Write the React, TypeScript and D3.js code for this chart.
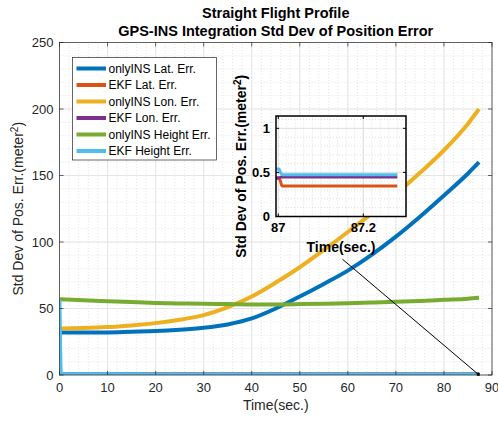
import React from 'react';
import * as d3 from 'd3';

// Time axis and standard deviations (meters) for the stand-alone INS solution
const timeMain = [0, 5, 10, 15, 20, 25, 30, 35, 40, 45, 50, 55, 60, 65, 70, 75, 80, 85, 87.3];
const latOnlyIns = [32, 32, 32, 32.5, 33, 34, 35.5, 38, 42.5, 50, 59, 68.5, 78.5, 90.5, 104, 119, 135, 151.5, 160];
const lonOnlyIns = [35, 35.3, 36, 37.3, 39, 41.5, 45, 51, 59, 69.5, 81, 94, 107.5, 121.5, 136, 152, 169, 189, 200];
const heightOnlyIns = [57, 56.2, 55.5, 54.8, 54.2, 53.8, 53.5, 53.3, 53.1, 53.1, 53.3, 53.6, 54, 54.5, 55, 55.7, 56.5, 57.3, 58];

// EKF solution over the whole flight
const timeEkf = [0, 0.3, 20, 40, 60, 80, 87.3];
const latEkf = [0.9, 0.35, 0.35, 0.35, 0.35, 0.35, 0.35];
const lonEkf = [0.9, 0.45, 0.45, 0.45, 0.45, 0.45, 0.45];
const heightEkf = [56.4, 0.48, 0.47, 0.47, 0.47, 0.47, 0.47];

// EKF solution, zoomed to the end of the flight
const timeInset = [86.995, 87.002, 87.005, 87.009, 87.28];
const latEkfInset = [0.43, 0.43, 0.4, 0.345, 0.345];
const lonEkfInset = [0.44, 0.44, 0.445, 0.447, 0.447];
const heightEkfInset = [0.54, 0.54, 0.5, 0.475, 0.475];

const legendLabels = [
  'onlyINS Lat. Err.',
  'EKF Lat. Err.',
  'onlyINS Lon. Err.',
  'EKF Lon. Err.',
  'onlyINS Height Err.',
  'EKF Height Err.',
];
const colors = ['#0072BD', '#D95319', '#EDB120', '#7E2F8E', '#77AC30', '#4DBEEE'];

const xTicksMain = [0, 10, 20, 30, 40, 50, 60, 70, 80, 90];
const yTicksMain = [0, 50, 100, 150, 200, 250];
const xTicksInset = [87, 87.2];
const yTicksInset = [0, 0.5, 1];

const FONT = '"Liberation Sans", Arial, Helvetica, sans-serif';
const TXT = '#262626';

export default function App() {
  const W = 498;
  const H = 421;

  // main axes
  const x = d3.scaleLinear().domain([0, 90]).range([59.5, 492]);
  const y = d3.scaleLinear().domain([0, 250]).range([375, 42.5]);

  // inset axes
  const xi = d3.scaleLinear().domain([86.9946, 87.3005]).range([276, 406]);
  const yi = d3.scaleLinear().domain([0, 1.14]).range([216.5, 116]);

  const lineMain = (t: number[], v: number[]) =>
    d3.line<number>().x((_, i) => x(t[i])).y((d) => y(d)).curve(d3.curveMonotoneX)(v) || '';
  const lineInset = (t: number[], v: number[]) =>
    d3.line<number>().x((_, i) => xi(t[i])).y((d) => yi(d)).curve(d3.curveMonotoneX)(v) || '';

  const mainSeries = [
    { t: timeMain, v: latOnlyIns, c: colors[0] },
    { t: timeEkf, v: latEkf, c: colors[1] },
    { t: timeMain, v: lonOnlyIns, c: colors[2] },
    { t: timeEkf, v: lonEkf, c: colors[3] },
    { t: timeMain, v: heightOnlyIns, c: colors[4] },
    { t: timeEkf, v: heightEkf, c: colors[5] },
  ];
  const insetSeries = [
    { t: timeInset, v: latEkfInset, c: colors[1] },
    { t: timeInset, v: lonEkfInset, c: colors[3] },
    { t: timeInset, v: heightEkfInset, c: colors[5] },
  ];

  const [x0, x1] = x.range();
  const [y0, y1] = y.range();
  const [ix0, ix1] = xi.range();
  const [iy0, iy1] = yi.range();

  const xMinorMain = d3.range(0, 90.001, 2);
  const yMinorMain = d3.range(0, 250.001, 10);
  const xMinorInset = d3.range(87, 87.3001, 0.02);
  const yMinorInset = d3.range(0, 1.1401, 0.1);

  // zoom-region marker and connector, in main-axis data units
  const zoomBox = { t0: 87, t1: 87.3, v0: 0, v1: 1.14 };
  const connector = { t: 58.9, v: 87 };

  const legendY = (i: number) => 68.5 + i * 16.5;

  return (
    <svg width={W} height={H} style={{ position: 'absolute', left: 0, top: 0, background: '#fff' }} fontFamily={FONT}>
      <defs>
        <clipPath id="clipMain">
          <rect x={x0} y={y1} width={x1 - x0} height={y0 - y1} />
        </clipPath>
        <clipPath id="clipInset">
          <rect x={ix0} y={iy1} width={ix1 - ix0} height={iy0 - iy1} />
        </clipPath>
      </defs>
      <rect width={W} height={H} fill="#fff" />

      {/* main grid */}
      <g>
        {xMinorMain.map((d) => (
          <line key={'xm' + d} x1={x(d)} x2={x(d)} y1={y0} y2={y1} stroke="#d4d4d4" strokeWidth={0.6} strokeDasharray="1 2" />
        ))}
        {yMinorMain.map((d) => (
          <line key={'ym' + d} x1={x0} x2={x1} y1={y(d)} y2={y(d)} stroke="#d4d4d4" strokeWidth={0.6} strokeDasharray="1 2" />
        ))}
        {xTicksMain.map((d) => (
          <line key={'xg' + d} x1={x(d)} x2={x(d)} y1={y0} y2={y1} stroke="#dfdfdf" strokeWidth={0.8} />
        ))}
        {yTicksMain.map((d) => (
          <line key={'yg' + d} x1={x0} x2={x1} y1={y(d)} y2={y(d)} stroke="#dfdfdf" strokeWidth={0.8} />
        ))}
      </g>

      {/* main series */}
      <g clipPath="url(#clipMain)">
        {mainSeries.map((s, i) => (
          <path key={i} d={lineMain(s.t, s.v)} fill="none" stroke={s.c} strokeWidth={4} strokeLinejoin="round" />
        ))}
      </g>

      {/* main axes box and ticks */}
      <rect x={x0} y={y1} width={x1 - x0} height={y0 - y1} fill="none" stroke={TXT} strokeWidth={0.7} />
      {xTicksMain.map((d) => (
        <g key={'xt' + d}>
          <line x1={x(d)} x2={x(d)} y1={y0} y2={y0 - 4} stroke={TXT} strokeWidth={0.7} />
          <line x1={x(d)} x2={x(d)} y1={y1} y2={y1 + 4} stroke={TXT} strokeWidth={0.7} />
          <text x={x(d)} y={y0 + 16.5} textAnchor="middle" fontSize={13} fill={TXT}>{d}</text>
        </g>
      ))}
      {yTicksMain.map((d) => (
        <g key={'yt' + d}>
          <line x1={x0} x2={x0 + 4} y1={y(d)} y2={y(d)} stroke={TXT} strokeWidth={0.7} />
          <line x1={x1} x2={x1 - 4} y1={y(d)} y2={y(d)} stroke={TXT} strokeWidth={0.7} />
          <text x={x0 - 6} y={y(d) + 4.5} textAnchor="end" fontSize={13} fill={TXT}>{d}</text>
        </g>
      ))}
      <text x={(x0 + x1) / 2} y={410} textAnchor="middle" fontSize={14} fill={TXT}>Time(sec.)</text>
      <text transform={`translate(23,${(y0 + y1) / 2}) rotate(-90)`} textAnchor="middle" fontSize={14} fill={TXT}>
        Std Dev of Pos. Err.(meter<tspan dy={-5} fontSize={10}>2</tspan><tspan dy={5}>)</tspan>
      </text>

      {/* title */}
      <text x={(x0 + x1) / 2} y={18} textAnchor="middle" fontSize={14.5} fontWeight="bold" fill="#000">Straight Flight Profile</text>
      <text x={(x0 + x1) / 2} y={35.5} textAnchor="middle" fontSize={14.5} fontWeight="bold" fill="#000">GPS-INS Integration Std Dev of Position Error</text>

      {/* legend */}
      <g>
        <rect x={72.5} y={57.5} width={144} height={102.5} fill="#fff" stroke={TXT} strokeWidth={0.7} />
        {legendLabels.map((l, i) => (
          <g key={l}>
            <line x1={76.5} x2={106} y1={legendY(i)} y2={legendY(i)} stroke={colors[i]} strokeWidth={4} />
            <text x={108.5} y={legendY(i) + 4.3} fontSize={12} fill="#000">{l}</text>
          </g>
        ))}
      </g>

      {/* zoom marker and connector */}
      <rect x={x(zoomBox.t0)} y={y(zoomBox.v1)} width={x(zoomBox.t1) - x(zoomBox.t0)} height={y(zoomBox.v0) - y(zoomBox.v1)} fill="none" stroke="#000" strokeWidth={1.5} />
      <line x1={x(connector.t)} y1={y(connector.v)} x2={x(zoomBox.t1)} y2={y(zoomBox.v0)} stroke="#000" strokeWidth={1} />

      {/* inset */}
      <rect x={ix0} y={iy1} width={ix1 - ix0} height={iy0 - iy1} fill="#fff" />
      <g>
        {xMinorInset.map((d, k) => (
          <line key={'ixm' + k} x1={xi(d)} x2={xi(d)} y1={iy0} y2={iy1} stroke="#c8c8c8" strokeWidth={0.6} strokeDasharray="1 2" />
        ))}
        {yMinorInset.map((d, k) => (
          <line key={'iym' + k} x1={ix0} x2={ix1} y1={yi(d)} y2={yi(d)} stroke="#c8c8c8" strokeWidth={0.6} strokeDasharray="1 2" />
        ))}
        {xTicksInset.map((d) => (
          <line key={'ixg' + d} x1={xi(d)} x2={xi(d)} y1={iy0} y2={iy1} stroke="#d8d8d8" strokeWidth={0.8} />
        ))}
        {yTicksInset.map((d) => (
          <line key={'iyg' + d} x1={ix0} x2={ix1} y1={yi(d)} y2={yi(d)} stroke="#d8d8d8" strokeWidth={0.8} />
        ))}
      </g>
      <g clipPath="url(#clipInset)">
        {insetSeries.map((s, i) => (
          <path key={i} d={lineInset(s.t, s.v)} fill="none" stroke={s.c} strokeWidth={3} strokeLinejoin="round" />
        ))}
      </g>
      <rect x={ix0} y={iy1} width={ix1 - ix0} height={iy0 - iy1} fill="none" stroke="#000" strokeWidth={1.5} />
      {xTicksInset.map((d) => (
        <g key={'ixt' + d}>
          <line x1={xi(d)} x2={xi(d)} y1={iy0} y2={iy0 - 3} stroke="#000" strokeWidth={1} />
          <line x1={xi(d)} x2={xi(d)} y1={iy1} y2={iy1 + 3} stroke="#000" strokeWidth={1} />
          <text x={xi(d)} y={iy0 + 15.5} textAnchor="middle" fontSize={13} fontWeight="bold" fill="#000">{d}</text>
        </g>
      ))}
      {yTicksInset.map((d) => (
        <g key={'iyt' + d}>
          <line x1={ix0} x2={ix0 + 3} y1={yi(d)} y2={yi(d)} stroke="#000" strokeWidth={1} />
          <line x1={ix1} x2={ix1 - 3} y1={yi(d)} y2={yi(d)} stroke="#000" strokeWidth={1} />
          <text x={ix0 - 6} y={yi(d) + 4.5} textAnchor="end" fontSize={13} fontWeight="bold" fill="#000">{d}</text>
        </g>
      ))}
      <text x={(ix0 + ix1) / 2} y={252} textAnchor="middle" fontSize={14} fontWeight="bold" fill="#000">Time(sec.)</text>
      <text transform={`translate(246,${(iy0 + iy1) / 2}) rotate(-90)`} textAnchor="middle" fontSize={14} fontWeight="bold" fill="#000">
        Std Dev of Pos. Err.(meter<tspan dy={-5} fontSize={10}>2</tspan><tspan dy={5}>)</tspan>
      </text>
    </svg>
  );
}
